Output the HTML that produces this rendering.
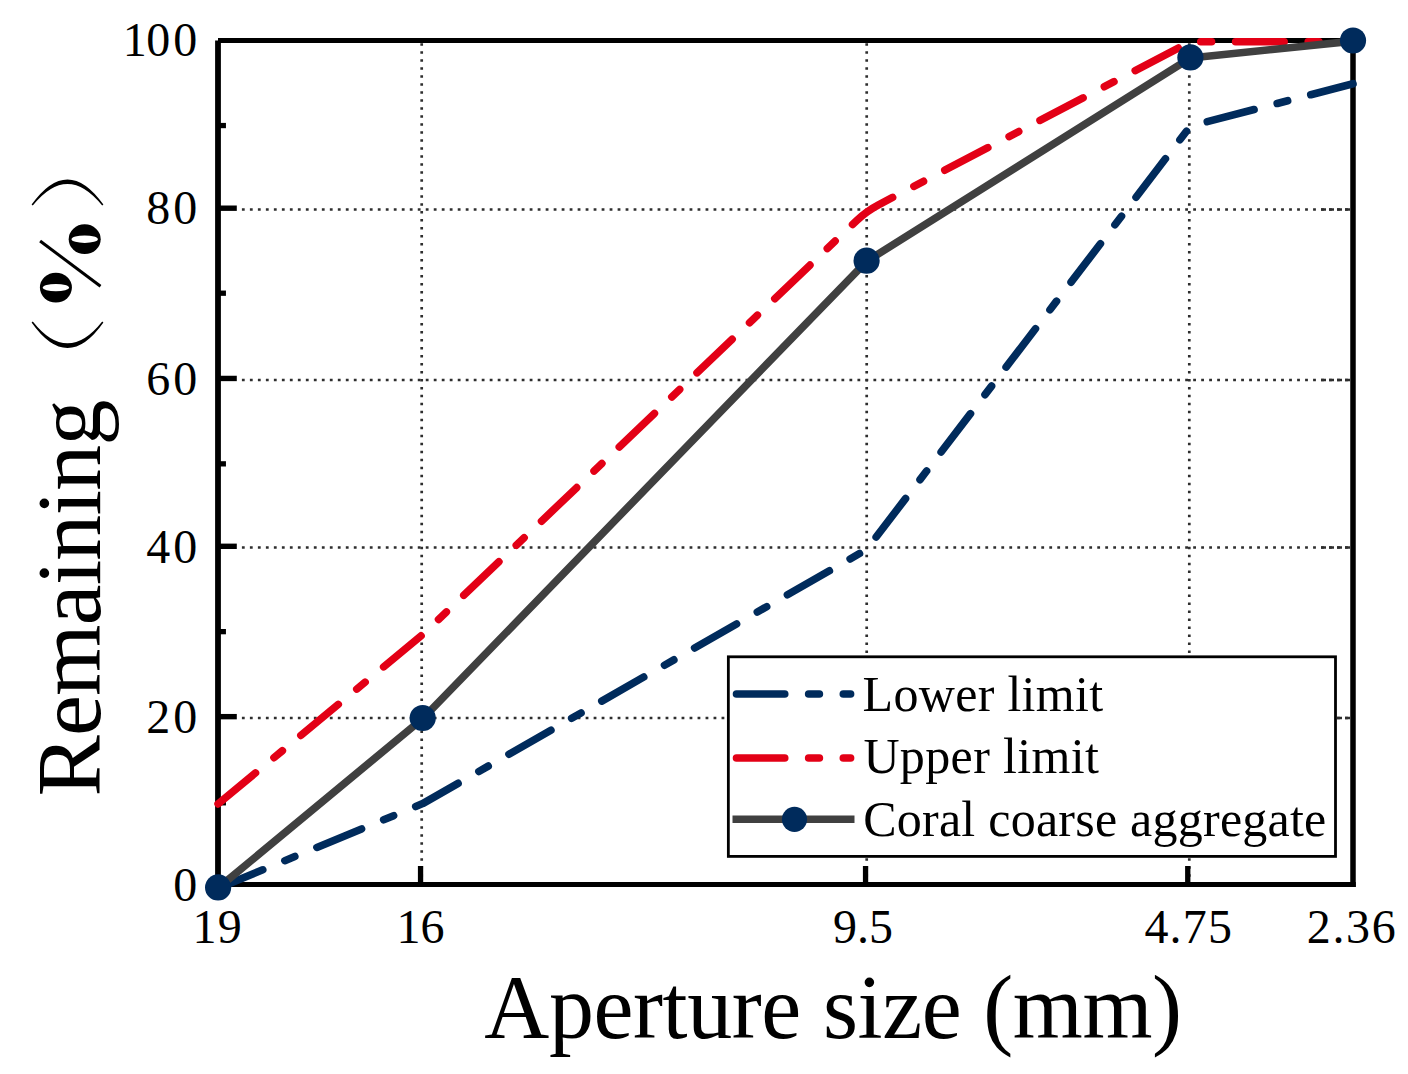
<!DOCTYPE html><html><head><meta charset="utf-8"><title>chart</title>
<style>html,body{margin:0;padding:0;background:#fff;}svg{display:block;}text{font-family:"Liberation Serif",serif;fill:#000;}</style></head><body>
<svg width="1408" height="1074" viewBox="0 0 1408 1074">
<rect width="1408" height="1074" fill="#fff"/>
<g stroke="#2e2e2e" fill="none">
<line x1="241.9" y1="209.5" x2="1350" y2="209.5" stroke-width="2.5" stroke-dasharray="2.8 5.194"/>
<line x1="1321" y1="209.5" x2="1350" y2="209.5" stroke-width="2.5" stroke-dasharray="5 3"/>
<line x1="241.9" y1="379.9" x2="1350" y2="379.9" stroke-width="2.5" stroke-dasharray="2.8 5.194"/>
<line x1="1321" y1="379.9" x2="1350" y2="379.9" stroke-width="2.5" stroke-dasharray="5 3"/>
<line x1="241.9" y1="547.6" x2="1350" y2="547.6" stroke-width="2.5" stroke-dasharray="2.8 5.194"/>
<line x1="1321" y1="547.6" x2="1350" y2="547.6" stroke-width="2.5" stroke-dasharray="5 3"/>
<line x1="241.9" y1="718.06" x2="1350" y2="718.06" stroke-width="2.5" stroke-dasharray="2.8 5.194"/>
<line x1="1321" y1="718.06" x2="1350" y2="718.06" stroke-width="2.5" stroke-dasharray="5 3"/>
<line x1="421.7" y1="43.35" x2="421.7" y2="882" stroke-width="2.7" stroke-dasharray="2.5 5.489"/>
<line x1="866.7" y1="43.35" x2="866.7" y2="882" stroke-width="2.7" stroke-dasharray="2.5 5.489"/>
<line x1="1189.3" y1="43.35" x2="1189.3" y2="882" stroke-width="2.7" stroke-dasharray="2.5 5.489"/>
</g>
<g stroke="#000" fill="none">
<line x1="218" y1="40.4" x2="218" y2="886.9" stroke-width="5.8"/>
<line x1="218" y1="40.4" x2="1355.75" y2="40.4" stroke-width="5"/>
<line x1="1353" y1="37.9" x2="1353" y2="886.9" stroke-width="5.5"/>
<line x1="215.1" y1="884.4" x2="1355.75" y2="884.4" stroke-width="5"/>
<line x1="218" y1="208.2" x2="236.8" y2="208.2" stroke-width="5.4"/>
<line x1="218" y1="378.45" x2="236.8" y2="378.45" stroke-width="5.4"/>
<line x1="218" y1="546.3" x2="236.8" y2="546.3" stroke-width="5.4"/>
<line x1="218" y1="716.65" x2="236.8" y2="716.65" stroke-width="5.4"/>
<line x1="218" y1="125.55" x2="225.95" y2="125.55" stroke-width="5.3"/>
<line x1="218" y1="293.2" x2="225.95" y2="293.2" stroke-width="5.3"/>
<line x1="218" y1="463.85" x2="225.95" y2="463.85" stroke-width="5.3"/>
<line x1="218" y1="631.65" x2="225.95" y2="631.65" stroke-width="5.3"/>
<line x1="218" y1="802.8" x2="225.95" y2="802.8" stroke-width="5.3"/>
<line x1="420.55" y1="884.4" x2="420.55" y2="866" stroke-width="5.3"/>
<line x1="865.55" y1="884.4" x2="865.55" y2="866" stroke-width="5.3"/>
<line x1="1187.75" y1="884.4" x2="1187.75" y2="866" stroke-width="5.3"/>
</g>
<polyline points="218.1,888.3 422.7,803.6 866.6,549.5 1190.4,126.1 1353.0,83.7" fill="none" stroke="#002B5C" stroke-width="7.6" stroke-linecap="round" stroke-linejoin="round" stroke-dasharray="48.32 23.93 10.77 23.93"/>
<path d="M218.1,803.9 L422.7,634.5 L856.5,220.7 Q866.6,211.1 879.0,204.6 L1190.4,41.7 L1353.0,41.7" fill="none" stroke="#E30016" stroke-width="7.6" stroke-linecap="round" stroke-linejoin="round" stroke-dasharray="48.54 24.05 10.82 24.05"/>
<polyline points="218.1,888.0 422.7,718.6 866.6,261.3 1190.4,58.0 1353.0,41.1" fill="none" stroke="#404040" stroke-width="7.6" stroke-linejoin="round"/>
<circle cx="218.1" cy="887.4" r="13.1" fill="#002B5C"/>
<circle cx="422.7" cy="718.0" r="13.1" fill="#002B5C"/>
<circle cx="866.6" cy="260.7" r="13.1" fill="#002B5C"/>
<circle cx="1190.4" cy="57.4" r="13.1" fill="#002B5C"/>
<circle cx="1353.0" cy="40.5" r="13.1" fill="#002B5C"/>
<rect x="728.35" y="656.8" width="607.15" height="199.6" fill="#fff" stroke="#000" stroke-width="2.8"/>
<line x1="736.5" y1="694" x2="850.6" y2="694" stroke="#002B5C" stroke-width="7.6" stroke-linecap="round" stroke-dasharray="48.25 23.90 10.75 23.90"/>
<line x1="736.5" y1="758" x2="850.6" y2="758" stroke="#E30016" stroke-width="7.6" stroke-linecap="round" stroke-dasharray="48.25 23.90 10.75 23.90"/>
<line x1="732.5" y1="819.3" x2="854.5" y2="819.3" stroke="#404040" stroke-width="7.6"/>
<circle cx="794.5" cy="819.3" r="12.6" fill="#002B5C"/>
<g font-size="50">
<text x="862.6" y="711" letter-spacing="0.3">Lower limit</text>
<text x="863.4" y="772.5" letter-spacing="0.36">Upper limit</text>
<text x="863.2" y="835.5" letter-spacing="0.24">Coral coarse aggregate</text>
</g>
<g font-size="48">
<text x="122.8 146.2 173.3" y="56.0">100</text>
<text x="146.2 173.3" y="224.2">80</text>
<text x="146.2 173.3" y="394.6">60</text>
<text x="146.2 173.3" y="562.5">40</text>
<text x="146.2 173.3" y="732.9">20</text>
<text x="173.3" y="901.2">0</text>
<text x="192.6" y="943" letter-spacing="1.2">19</text>
<text x="396.5" y="943" letter-spacing="0">16</text>
<text x="833.0" y="943" letter-spacing="0">9.5</text>
<text x="1144.4" y="943" letter-spacing="1.2">4.75</text>
<text x="1306.7" y="943" letter-spacing="1.7">2.36</text>
</g>
<text x="484.3" y="1038.2" font-size="90" letter-spacing="-0.41">Aperture size (mm)</text>
<text transform="translate(100.3,796.6) rotate(-90)" font-size="92" textLength="397" lengthAdjust="spacing">Remaining</text>
<g fill="#000">
<ellipse cx="84.7" cy="239.2" rx="16" ry="14.9"/>
<ellipse cx="84.7" cy="239.2" rx="13.2" ry="3.7" fill="#fff"/>
<ellipse cx="55.9" cy="287.6" rx="16" ry="14.9"/>
<ellipse cx="55.9" cy="287.6" rx="13.2" ry="3.7" fill="#fff"/>
<line x1="40.1" y1="241" x2="100.5" y2="286.3" stroke="#000" stroke-width="3"/>
<path d="M31.6,204.6 Q67.5,154.2 103.4,204.6 L102.2,205.6 Q67.5,162.4 32.8,205.6 Z"/>
<path d="M31.6,322.4 Q67.5,373.4 103.4,322.4 L102.2,321.4 Q67.5,365.2 32.8,321.4 Z"/>
</g>
</svg></body></html>
